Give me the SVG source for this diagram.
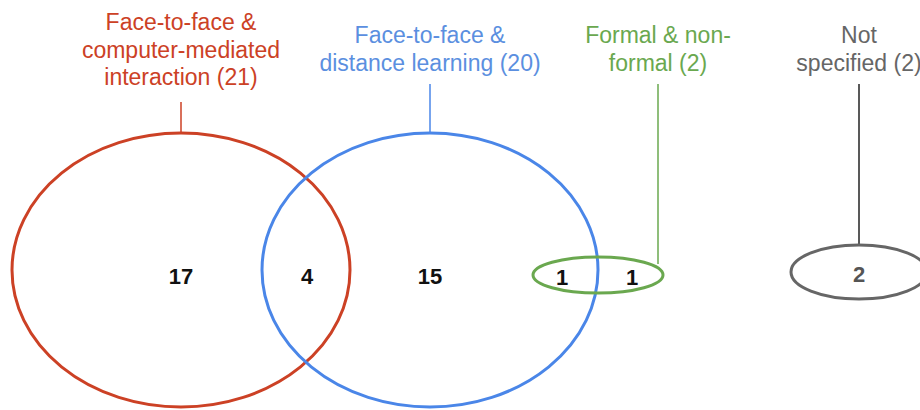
<svg xmlns="http://www.w3.org/2000/svg" width="920" height="410" viewBox="0 0 920 410">
<style>
.lbl{font-family:"Liberation Sans",Arial,sans-serif;font-size:23px;text-anchor:middle}
.num{font-family:"Liberation Sans",Arial,sans-serif;font-size:22px;font-weight:bold;text-anchor:middle;fill:#111}
.ell{fill:none;stroke-width:3}
.con{stroke-width:1.5;fill:none}
</style>
<rect width="920" height="410" fill="#fff"/>
<g id="connectors">
<line class="con" x1="181" y1="102" x2="181" y2="133" stroke="#cc4125"/>
<line class="con" x1="430" y1="84" x2="430" y2="133" stroke="#4a86e8"/>
<line class="con" x1="658" y1="84" x2="658" y2="264" stroke="#6aa84f"/>
<line class="con" x1="859" y1="84" x2="859" y2="245" stroke="#222"/>
</g>
<g id="red">
<ellipse class="ell" cx="181" cy="270" rx="169" ry="137" stroke="#cc4125"/>
<text class="lbl" fill="#cc4125"><tspan x="181" y="30">Face-to-face &amp;</tspan><tspan x="181" y="58">computer-mediated</tspan><tspan x="181" y="85">interaction (21)</tspan></text>
<text class="num" x="181" y="284">17</text>
</g>
<g id="blue">
<ellipse class="ell" cx="430" cy="270" rx="168" ry="137" stroke="#4a86e8"/>
<text class="lbl" fill="#5b8fe0"><tspan x="430" y="43">Face-to-face &amp;</tspan><tspan x="430" y="71">distance learning (20)</tspan></text>
<text class="num" x="307" y="284">4</text>
<text class="num" x="430" y="284">15</text>
</g>
<g id="green">
<ellipse class="ell" cx="598" cy="275" rx="65" ry="18" stroke="#6aa84f"/>
<text class="lbl" fill="#6aa84f"><tspan x="658" y="43">Formal &amp; non-</tspan><tspan x="658" y="71">formal (2)</tspan></text>
<text class="num" x="562" y="285">1</text>
<text class="num" x="632" y="285">1</text>
</g>
<g id="unspecified">
<ellipse class="ell" cx="859" cy="272" rx="68" ry="27" stroke="#666"/>
<text class="lbl" fill="#666"><tspan x="859" y="43">Not</tspan><tspan x="859" y="71">specified (2)</tspan></text>
<text class="num" x="859" y="282" style="fill:#555">2</text>
</g>
</svg>
